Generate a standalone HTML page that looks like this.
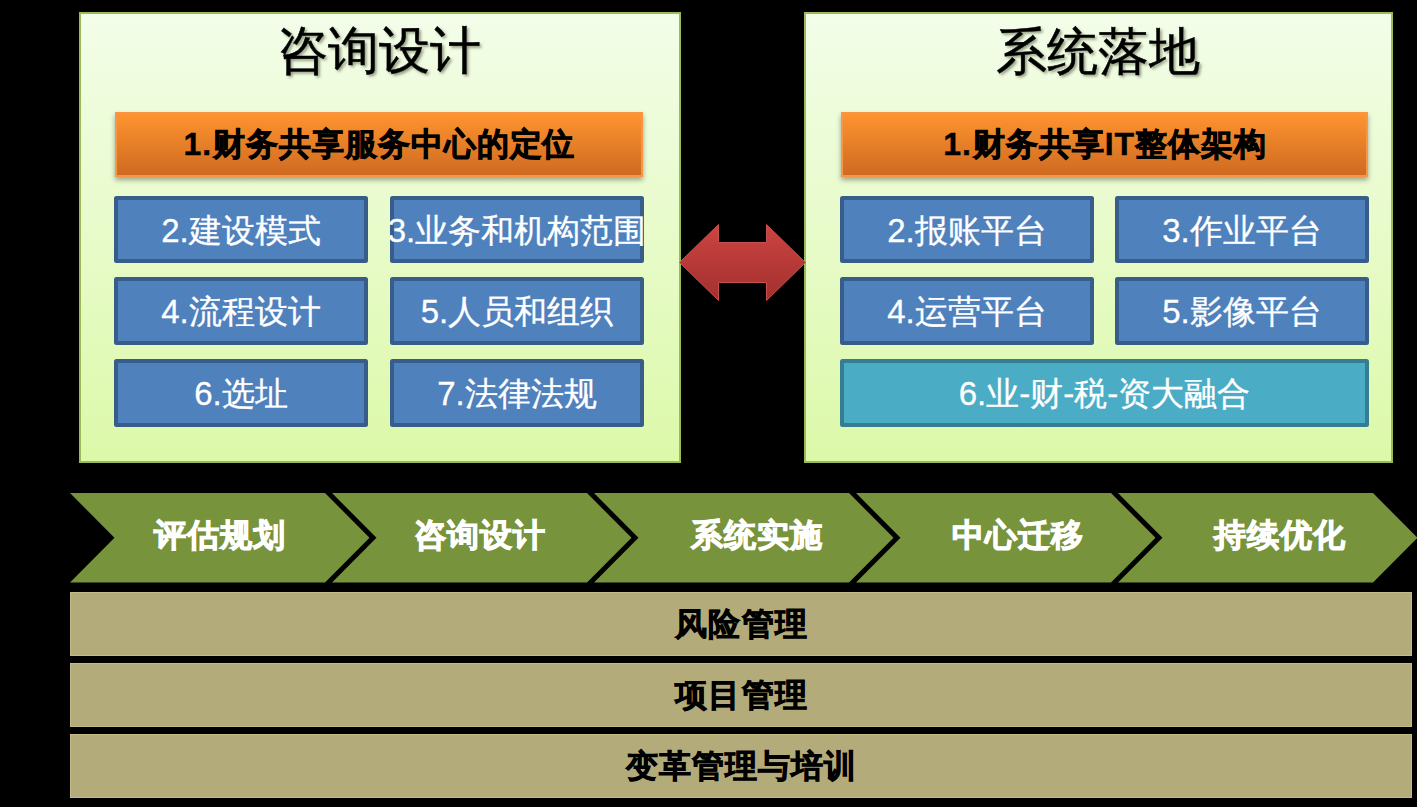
<!DOCTYPE html>
<html><head><meta charset="utf-8">
<style>
html,body{margin:0;padding:0;}
body{width:1417px;height:807px;background:#000;position:relative;overflow:hidden;font-family:"Liberation Sans",sans-serif;}
.a{position:absolute;box-sizing:border-box;}
.panel{border:2px solid #9bbb59;background:linear-gradient(#f3fde9,#dcf9a9);}
.title{font-size:51px;color:#000;-webkit-text-stroke:0.5px #000;text-shadow:2px 2px 3px rgba(60,70,40,.55);white-space:nowrap;text-align:center;line-height:60px;}
.orange{border:2px solid #f79646;-webkit-text-stroke:0.8px #000;background:linear-gradient(#fe942f,#cf6a21);box-shadow:0 3px 5px rgba(0,0,0,.35);display:flex;align-items:center;justify-content:center;font-weight:bold;font-size:32px;letter-spacing:0.9px;padding-left:0.9px;color:#000;white-space:nowrap;}
.blue{border:4px solid #385d8a;-webkit-text-stroke:0.3px #fff;background:#4f81bd;border-radius:2.5px;display:flex;padding-top:3px;align-items:center;justify-content:center;font-size:33px;color:#fff;white-space:nowrap;overflow:hidden;}
.aqua{border:4px solid #357d91;-webkit-text-stroke:0.3px #fff;background:#4bacc6;border-radius:2.5px;display:flex;padding-top:3px;align-items:center;justify-content:center;font-size:33px;color:#fff;white-space:nowrap;overflow:hidden;}
.chev{-webkit-text-stroke:1px #fff;font-weight:bold;font-size:32px;letter-spacing:1.0px;color:#fff;white-space:nowrap;line-height:40px;}
.tan{-webkit-text-stroke:0.8px #000;background:#b3ac7a;border:1px solid #c4bc88;display:flex;align-items:center;justify-content:center;font-weight:bold;font-size:32px;letter-spacing:1.1px;padding-top:2px;padding-left:1.1px;color:#000;white-space:nowrap;}
.n{-webkit-text-stroke:0.4px #000;}
.orange .n:first-child{margin-right:1.5px;}
</style></head><body>

<!-- left panel -->
<div class="a panel" style="left:79px;top:12px;width:602px;height:451px;"></div>
<div class="a title" style="left:77.5px;top:21px;width:602px;">咨询设计</div>
<div class="a orange" style="left:115px;top:112px;width:528px;height:65px;"><span class="n">1.</span>财务共享服务中心的定位</div>
<div class="a blue" style="left:114px;top:196px;width:254px;height:67px;">2.建设模式</div>
<div class="a blue" style="left:390px;top:196px;width:254px;height:67px;"></div>
<div class="a blue" style="left:390px;top:196px;width:254px;height:67px;border-width:0;background:none;">3.业务和机构范围</div>
<div class="a blue" style="left:114px;top:277.3px;width:254px;height:67.4px;">4.流程设计</div>
<div class="a blue" style="left:390px;top:277.3px;width:254px;height:67.4px;">5.人员和组织</div>
<div class="a blue" style="left:114px;top:359.2px;width:254px;height:67.5px;">6.选址</div>
<div class="a blue" style="left:390px;top:359.2px;width:254px;height:67.5px;">7.法律法规</div>

<!-- right panel -->
<div class="a panel" style="left:804px;top:12px;width:589px;height:451px;"></div>
<div class="a title" style="left:803px;top:21.5px;width:589px;">系统落地</div>
<div class="a orange" style="left:841px;top:112px;width:527px;height:65px;"><span class="n">1.</span>财务共享<span class="n">IT</span>整体架构</div>
<div class="a blue" style="left:840px;top:196px;width:254px;height:67px;">2.报账平台</div>
<div class="a blue" style="left:1115px;top:196px;width:254px;height:67px;">3.作业平台</div>
<div class="a blue" style="left:840px;top:277.3px;width:254px;height:67.4px;">4.运营平台</div>
<div class="a blue" style="left:1115px;top:277.3px;width:254px;height:67.4px;">5.影像平台</div>
<div class="a aqua" style="left:840px;top:359.2px;width:529px;height:67.5px;">6.业-财-税-资大融合</div>

<!-- arrow -->
<svg class="a" style="left:0;top:0;" width="1417" height="807">
<defs>
<linearGradient id="rg" x1="0" y1="0" x2="0" y2="1">
<stop offset="0" stop-color="#cc4441"/><stop offset="1" stop-color="#a2302e"/>
</linearGradient>
</defs>
<polygon points="679.5,262.5 718.5,224.5 718.5,242.5 766.5,242.5 766.5,224.5 805.5,262.5 766.5,300.5 766.5,282.5 718.5,282.5 718.5,300.5" fill="url(#rg)" stroke="#c5514e" stroke-width="1"/>
<!-- chevrons -->
<g fill="#77933c">
<polygon points="70,493 325,493 369.5,537.8 325,582.5 70,582.5 114.5,537.8"/>
<polygon points="332,493 587,493 631.5,537.8 587,582.5 332,582.5 376.5,537.8"/>
<polygon points="594,493 849,493 893.5,537.8 849,582.5 594,582.5 638.5,537.8"/>
<polygon points="856,493 1111,493 1155.5,537.8 1111,582.5 856,582.5 900.5,537.8"/>
<polygon points="1118,493 1373,493 1417.5,537.8 1373,582.5 1118,582.5 1162.5,537.8"/>
</g>
</svg>
<div class="a chev" style="left:154px;top:515px;">评估规划</div>
<div class="a chev" style="left:413.5px;top:515px;">咨询设计</div>
<div class="a chev" style="left:691px;top:515px;">系统实施</div>
<div class="a chev" style="left:951.5px;top:515px;">中心迁移</div>
<div class="a chev" style="left:1213.5px;top:515px;">持续优化</div>

<!-- bottom bars -->
<div class="a tan" style="left:70px;top:592px;width:1342px;height:64px;">风险管理</div>
<div class="a tan" style="left:70px;top:663px;width:1342px;height:64px;">项目管理</div>
<div class="a tan" style="left:70px;top:734px;width:1342px;height:64px;">变革管理与培训</div>

</body></html>
